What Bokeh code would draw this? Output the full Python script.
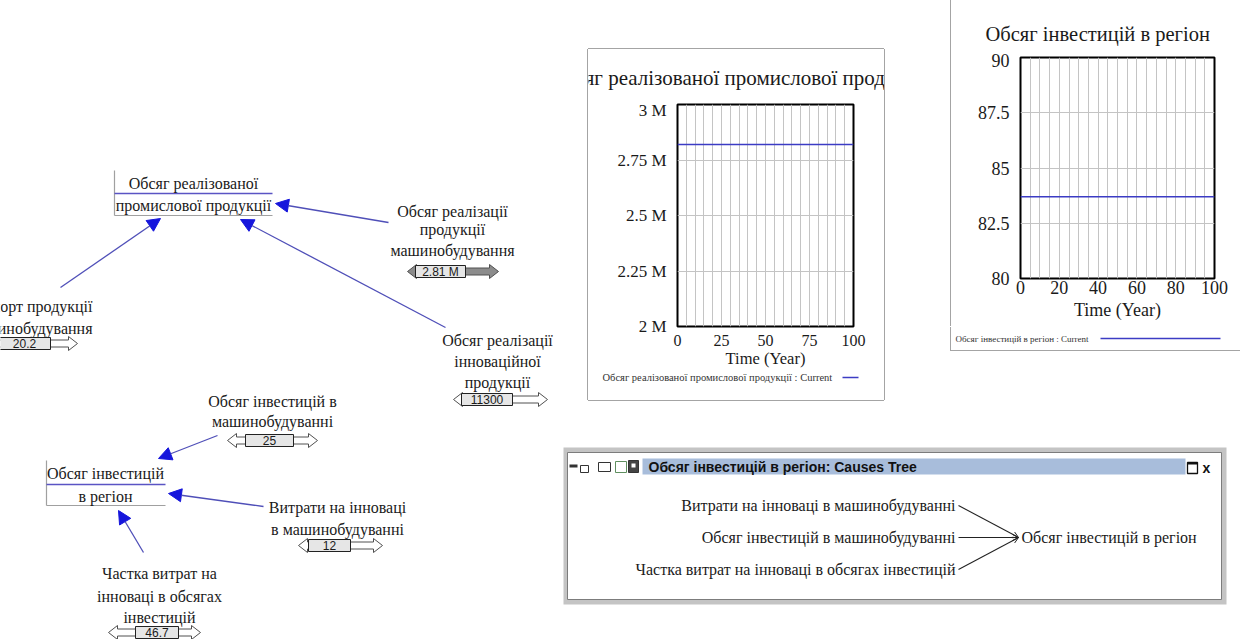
from bokeh.plotting import figure
from bokeh.layouts import row, column
from bokeh.models import (Range1d, FixedTicker, Arrow, NormalHead, OpenHead, Spacer)
from bokeh.core.properties import value
from bokeh.embed import file_html
from bokeh.resources import INLINE

SERIF = "Liberation Serif"
NARROW = "Liberation Sans Narrow, Liberation Sans"

# ---------------- data ----------------
years = [0, 100]
industrial_output = [2820000, 2820000]          # Обсяг реалізованої промислової продукції
region_investment = [83.7, 83.7]                # Обсяг інвестицій в регіон

out_yticks = [2000000, 2250000, 2500000, 2750000, 3000000]
out_ylabels = ["2 M", "2.25 M", "2.5 M", "2.75 M", "3 M"]
out_xticks = [0, 25, 50, 75, 100]
inv_yticks = [80, 82.5, 85, 87.5, 90]
inv_ylabels = ["80", "82.5", "85", "87.5", "90"]
inv_xticks = [0, 20, 40, 60, 80, 100]
grid_years = [0, 5, 10, 15, 20, 25, 30, 35, 40, 45, 50, 55, 60, 65, 70, 75, 80, 85, 90, 95, 100]

out_title = "Обсяг реалізованої промислової продукції"
inv_title = "Обсяг інвестицій в регіон"
out_legend = "Обсяг реалізованої промислової продукції : Current"
inv_legend = "Обсяг інвестицій в регіон : Current"

level_names = [["Обсяг реалізованої", "промислової продукції"],
               ["Обсяг інвестицій", "в регіон"]]
aux_names = [["Обсяг реалізації", "продукції", "машинобудування"],
             ["Обсяг реалізації", "інноваційної", "продукції"],
             ["Експорт продукції", "машинобудування"],
             ["Обсяг інвестицій в", "машинобудуванні"],
             ["Витрати на інноваці", "в машинобудуванні"],
             ["Частка витрат на", "інноваці в обсягах", "інвестицій"]]
aux_values = ["2.81 M", "11300", "20.2", "25", "12", "46.7"]

tree_causes = ["Витрати на інноваці в машинобудуванні",
               "Обсяг інвестицій в машинобудуванні",
               "Частка витрат на інноваці в обсягах інвестицій"]
tree_target = "Обсяг інвестицій в регіон"
tree_title = "Обсяг інвестицій в регіон: Causes Tree"

# ---------------- layout (positions / styles) ----------------
LINE_BLUE = "#3c3cc4"
ARROW_LINE = "#4f4fb8"
ARROW_HEAD = "#1616dc"
TXT = "#1a1a1a"
FRAME = "#a4a4a4"
DIAG_FONT = "16px"

level_layout = [dict(left=114, right=272, top=170, bottom=215, div=193, cx=193, ys=[183, 205]),
                dict(left=46, right=165, top=460, bottom=505, div=484, cx=105, ys=[473, 496])]
aux_layout = [dict(x=452, ys=[211, 229, 250], align="center"),
              dict(x=497, ys=[340, 361, 382], align="center"),
              dict(x=92, ys=[306, 328], align="right"),
              dict(x=272, ys=[401, 421], align="center"),
              dict(x=337, ys=[507, 529], align="center"),
              dict(x=159, ys=[573, 596, 617], align="center")]
# slider: left tip, box left, box right, right tip, centre y, filled
slider_layout = [(407, 415, 465, 498, 271, True),
                 (453, 461, 512, 547, 399, False),
                 (-10, -2, 50, 77, 343, False),
                 (227, 245, 293, 317, 440, False),
                 (298, 308, 350, 382, 545, False),
                 (108, 135, 178, 200, 632, False)]
links = [(60, 287, 160, 218), (388, 222, 275, 203), (445, 327, 240, 219),
         (217, 435, 158, 458), (263, 506, 168, 493), (143, 552, 118, 510)]


def blank(w, h, x0, x1, y0, y1, css=None):
    kw = {} if css is None else {"styles": css}
    f = figure(width=w, height=h, x_range=Range1d(x0, x1), y_range=Range1d(y1, y0),
               output_backend="svg", toolbar_location=None, x_axis_type=None,
               y_axis_type=None, min_border=0, title=None, frame_align=False, **kw)
    f.outline_line_color = None
    f.grid.visible = False
    return f


# ---------------- left diagram ----------------
L = blank(563, 639, 0, 563, 0, 639)

for lay, names in zip(level_layout, level_names):
    L.segment(x0=[lay["left"], lay["left"]], y0=[lay["top"], lay["bottom"]],
              x1=[lay["left"], lay["right"]], y1=[lay["bottom"], lay["bottom"]],
              line_color="#a0a0a0", line_width=1.2)
    L.segment(x0=[lay["left"]], y0=[lay["div"]], x1=[lay["right"]], y1=[lay["div"]],
              line_color="#5a54c4", line_width=1.5)
    L.text(x=[lay["cx"]] * len(names), y=lay["ys"], text=names, text_font=value(SERIF),
           text_font_size=DIAG_FONT, text_align="center", text_baseline="middle",
           text_color=TXT)

for lay, names in zip(aux_layout, aux_names):
    L.text(x=[lay["x"]] * len(names), y=lay["ys"], text=names, text_font=value(SERIF),
           text_font_size=DIAG_FONT, text_align=lay["align"], text_baseline="middle",
           text_color=TXT)

pxs, pys, pfill = [], [], []
for (x0, bl, br, x1, cy, filled) in slider_layout:
    pxs.append([x0, x0 + 9, x0 + 9, x1 - 9, x1 - 9, x1, x1 - 9, x1 - 9, x0 + 9, x0 + 9])
    pys.append([cy, cy - 7, cy - 3.5, cy - 3.5, cy - 7, cy, cy + 7, cy + 3.5, cy + 3.5, cy + 7])
    pfill.append("#8c8c8c" if filled else "white")
L.patches(pxs, pys, fill_color=pfill, line_color="#505050", line_width=1)
L.quad(left=[s[1] for s in slider_layout], right=[s[2] for s in slider_layout],
       top=[s[4] - 6 for s in slider_layout], bottom=[s[4] + 6 for s in slider_layout],
       fill_color="#e6e6e6", line_color="#222222", line_width=1)
L.text(x=[(s[1] + s[2]) / 2 for s in slider_layout], y=[s[4] for s in slider_layout],
       text=aux_values, text_font=value(NARROW), text_font_size="12px",
       text_align="center", text_baseline="middle", text_color=TXT)

for (xa, ya, xb, yb) in links:
    L.add_layout(Arrow(end=NormalHead(size=13, fill_color=ARROW_HEAD, line_color=ARROW_HEAD,
                                      line_width=1),
                       x_start=xa, y_start=ya, x_end=xb, y_end=yb,
                       line_color=ARROW_LINE, line_width=1.3))


# ---------------- charts ----------------
def make_chart(w, h, borders, yr, yticks, ylabels, xticks, ys, xl_stand, xa_stand, yl_stand,
               ylab_size, xlab_size, axlab_size, css):
    bl, br, bt, bb = borders
    p = figure(width=w, height=h, output_backend="svg", toolbar_location=None, title=None,
               x_range=Range1d(0, 100), y_range=Range1d(*yr), frame_align=False,
               min_border_left=bl, min_border_right=br, min_border_top=bt,
               min_border_bottom=bb, styles=css)
    p.yaxis.ticker = FixedTicker(ticks=yticks)
    p.yaxis.major_label_overrides = {t: l for t, l in zip(yticks, ylabels)}
    p.xaxis.ticker = FixedTicker(ticks=xticks)
    p.axis.axis_line_color = None
    p.axis.major_tick_line_color = None
    p.axis.minor_tick_line_color = None
    p.axis.major_tick_in = 0
    p.axis.major_tick_out = 0
    p.axis.major_label_text_font = SERIF
    p.axis.major_label_text_color = TXT
    p.yaxis.major_label_text_font_size = ylab_size
    p.xaxis.major_label_text_font_size = xlab_size
    p.xaxis.major_label_standoff = xl_stand
    p.yaxis.major_label_standoff = yl_stand
    p.xaxis.axis_label = "Time (Year)"
    p.xaxis.axis_label_text_font = SERIF
    p.xaxis.axis_label_text_font_size = axlab_size
    p.xaxis.axis_label_text_font_style = "normal"
    p.xaxis.axis_label_text_color = TXT
    p.xaxis.axis_label_standoff = xa_stand

    p.xgrid.ticker = FixedTicker(ticks=grid_years)
    p.ygrid.ticker = FixedTicker(ticks=yticks)
    p.grid.grid_line_color = "#c4c4c4"
    p.grid.grid_line_width = 1
    p.outline_line_color = "black"
    p.outline_line_width = 2

    p.line(years, ys, line_color=LINE_BLUE, line_width=1.6)
    return p


def make_header(w, h, x0, x1, y0, y1, text, size, tx, ty, css):
    f = blank(w, h, x0, x1, y0, y1, css)
    f.text(x=[tx], y=[ty], text=[text], text_font=value(SERIF), text_font_size=size,
           text_baseline="middle", text_color=TXT)
    return f


def make_legend(w, h, x0, x1, y0, y1, text, size, tx, ty, lx0, lx1, css):
    f = blank(w, h, x0, x1, y0, y1, css)
    f.text(x=[tx], y=[ty], text=[text], text_font=value(SERIF), text_font_size=size,
           text_baseline="middle", text_color="#333333")
    f.line(x=[lx0, lx1], y=[ty, ty], line_color=LINE_BLUE, line_width=1.4)
    return f


LR = f"-1px 0 0 0 {FRAME}, 1px 0 0 0 {FRAME}"
head1 = make_header(296, 51, 588, 884, 49, 100, out_title, "21px", 549, 77,
                    {"box-shadow": f"{LR}, 0 -1px 0 0 {FRAME}"})
fig1 = make_chart(296, 272, (89, 31, 4, 46), (2000000, 3000000), out_yticks, out_ylabels,
                  out_xticks, industrial_output, 8, 0, 11, "17px", "16px", "16.5px",
                  {"box-shadow": LR})
leg1 = make_legend(296, 28, 588, 884, 372, 400, out_legend, "10.5px", 602, 377, 842, 858,
                   {"box-shadow": f"{LR}, 0 1px 0 0 {FRAME}"})

head2 = make_header(290, 53, 951, 1241, 0, 53, inv_title, "20.5px", 985, 33,
                    {"box-shadow": f"-1px 0 0 0 {FRAME}"})
fig2 = make_chart(290, 273, (69, 27, 4, 48), (80, 90), inv_yticks, inv_ylabels,
                  inv_xticks, region_investment, 2, 3, 11, "18px", "18px", "18px",
                  {"box-shadow": f"-1px 0 0 0 {FRAME}"})
leg2 = make_legend(290, 24, 951, 1241, 326, 350, inv_legend, "9px", 955, 338, 1100, 1220,
                   {"box-shadow": f"-1px 1px 0 0 {FRAME}"})

# ---------------- causes tree window ----------------
T = blank(678, 199, 563, 1241, 440, 639)
T.quad(left=[562], right=[1226], top=[447], bottom=[604], fill_color="#c4c4c4", line_color=None)
T.quad(left=[567], right=[1221], top=[452], bottom=[599], fill_color="white",
       line_color="#7c7c7c", line_width=1)
T.quad(left=[642], right=[1185], top=[458], bottom=[474], fill_color="#a8bddb", line_color=None)
T.text(x=[648], y=[466.5], text=[tree_title], text_font=value(NARROW), text_font_size="14px",
       text_font_style="bold", text_baseline="middle", text_color="#111111")
# toolbar icons
T.quad(left=[569], right=[577], top=[464], bottom=[467], fill_color="#333333", line_color=None)
T.quad(left=[580, 598, 628], right=[588, 610, 638], top=[465, 462, 460], bottom=[472, 471, 472],
       fill_color=["white", "white", "#444444"], line_color="#333333", line_width=1)
T.quad(left=[615], right=[626], top=[461], bottom=[472], fill_color="white",
       line_color="#5f8f5f", line_width=1)
T.quad(left=[631], right=[635], top=[463], bottom=[467], fill_color="white", line_color=None)
# window buttons
T.quad(left=[1187], right=[1197], top=[462], bottom=[473], fill_color="white",
       line_color="#111111", line_width=1.3)
T.segment(x0=[1187], y0=[463], x1=[1197], y1=[463], line_color="#111111", line_width=2)
T.text(x=[1206], y=[467.5], text=["x"], text_font=value("Liberation Sans"),
       text_font_size="14px", text_font_style="bold", text_align="center",
       text_baseline="middle", text_color="#111111")

tree_y = [505, 537, 569]
T.text(x=[955] * 3, y=tree_y, text=tree_causes, text_font=value(SERIF), text_font_size="16px",
       text_align="right", text_baseline="middle", text_color=TXT)
T.text(x=[1021], y=[537], text=[tree_target], text_font=value(SERIF), text_font_size="16px",
       text_align="left", text_baseline="middle", text_color=TXT)
for ty in tree_y:
    T.add_layout(Arrow(end=OpenHead(size=6, line_color="#222222", line_width=1),
                       x_start=958, y_start=ty, x_end=1018, y_end=537,
                       line_color="#222222", line_width=1.1))

# ---------------- assemble ----------------
top = row(Spacer(width=25, height=440),
          column(Spacer(width=296, height=49), head1, fig1, leg1, Spacer(width=296, height=40)),
          Spacer(width=67, height=440),
          column(head2, fig2, leg2, Spacer(width=290, height=90)))
page = row(L, column(top, T))

open("out.html", "w").write(file_html(page, INLINE))
